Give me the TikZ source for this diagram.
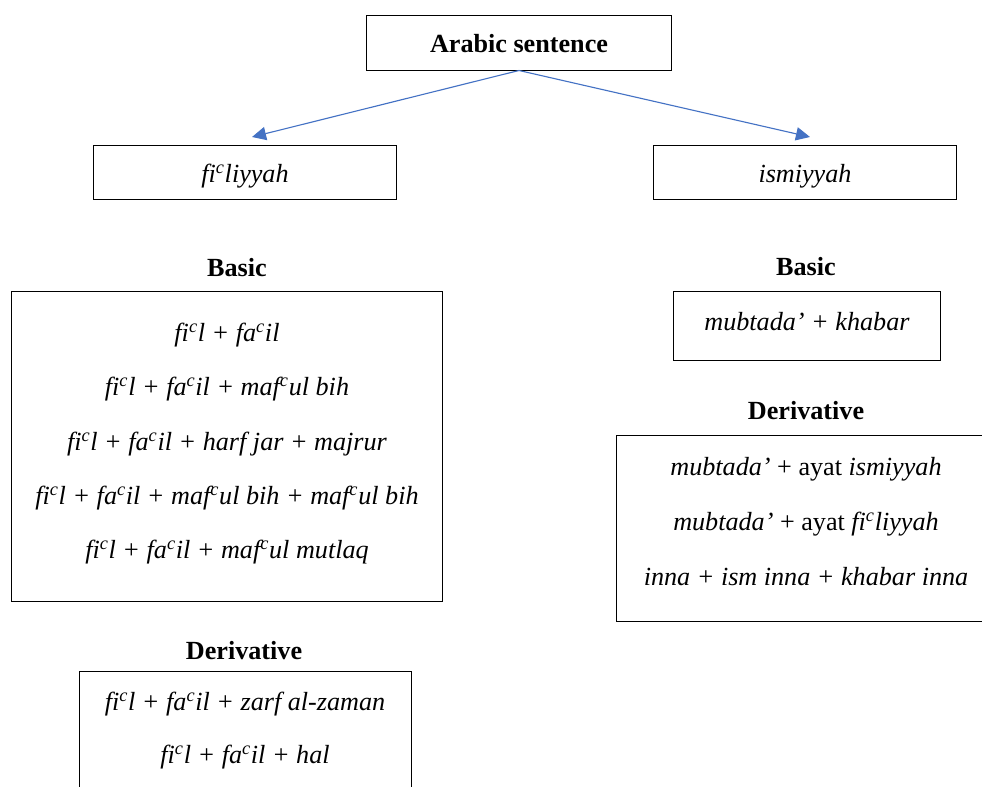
\documentclass[tikz,border=0pt]{standalone}
\usepackage{fontspec}
\setmainfont{Liberation Serif}
\usetikzlibrary{arrows.meta}
\definecolor{linkblue}{HTML}{4472C4}
\newcommand{\ayn}{\textsuperscript{c}}
\begin{document}
\begin{tikzpicture}[x=0.025cm,y=-0.025cm,
    font=\fontsize{18.6}{22}\selectfont]
    \tikzstyle{frame} = [rectangle,draw,line width=0.7pt,inner sep=0pt]
    \tikzstyle{rowtext} = [anchor=base,inner sep=0pt,yshift=-2.2pt]
    \tikzstyle{heading} = [anchor=base,inner sep=0pt,yshift=-2pt,font=\fontsize{18.6}{22}\selectfont\bfseries]
    \tikzstyle{link} = [linkblue,line width=0.8pt,-{Triangle[length=10pt,width=9.5pt]}]
    \clip (0,0) rectangle (982,787);
    % top level
    \node[frame,minimum width=7.6cm,minimum height=1.35cm] (root) at (519,43) {};
    \node[heading] (roottext) at (519,50) {Arabic sentence};
    \node[frame,minimum width=7.575cm,minimum height=1.325cm] (fil) at (245,172.5) {};
    \node[rowtext] (filtext) at (245,179) {\textit{fi\ayn liyyah}};
    \node[frame,minimum width=7.575cm,minimum height=1.325cm] (ism) at (805,172.5) {};
    \node[rowtext] (ismtext) at (805,179) {\textit{ismiyyah}};
    \coordinate (filtip) at (252,137);
    \coordinate (ismtip) at (810,137);
    \draw[link] (root.south) -- (filtip);
    \draw[link] (root.south) -- (ismtip);
    % fi'liyyah side
    \begin{scope}
        \node[heading] (filbasic) at (237,274) {Basic};
        \node[frame,minimum width=10.75cm,minimum height=7.725cm] (filbasicbox) at (227,446.5) {};
        \node[rowtext] (fb1) at (227,338) {\textit{fi\ayn l + fa\ayn il}};
        \node[rowtext] (fb2) at (227,392) {\textit{fi\ayn l + fa\ayn il + maf\ayn ul bih}};
        \node[rowtext] (fb3) at (227,447) {\textit{fi\ayn l + fa\ayn il + harf jar + majrur}};
        \node[rowtext] (fb4) at (227,501) {\textit{fi\ayn l + fa\ayn il + maf\ayn ul bih + maf\ayn ul bih}};
        \node[rowtext] (fb5) at (227,555) {\textit{fi\ayn l + fa\ayn il + maf\ayn ul mutlaq}};
        \node[heading] (filderiv) at (244,657) {Derivative};
        \node[frame,minimum width=8.3cm,minimum height=5cm] (filderivbox) at (245.5,772) {};
        \node[rowtext] (fd1) at (245,707) {\textit{fi\ayn l + fa\ayn il + zarf al-zaman}};
        \node[rowtext] (fd2) at (245,760) {\textit{fi\ayn l + fa\ayn il + hal}};
    \end{scope}
    % ismiyyah side
    \begin{scope}
        \node[heading] (ismbasic) at (806,273) {Basic};
        \node[frame,minimum width=6.65cm,minimum height=1.7cm] (ismbasicbox) at (807,326) {};
        \node[rowtext] (ib1) at (807,327) {\textit{mubtada’ + khabar}};
        \node[heading] (ismderiv) at (806,417) {Derivative};
        \node[frame,minimum width=10cm,minimum height=4.625cm] (ismderivbox) at (817,528.5) {};
        \node[rowtext] (id1) at (806,472) {\textit{mubtada’} + ayat \textit{ismiyyah}};
        \node[rowtext] (id2) at (806,527) {\textit{mubtada’} + ayat \textit{fi\ayn liyyah}};
        \node[rowtext] (id3) at (806,582) {\textit{inna + ism inna + khabar inna}};
    \end{scope}
\end{tikzpicture}
\end{document}
